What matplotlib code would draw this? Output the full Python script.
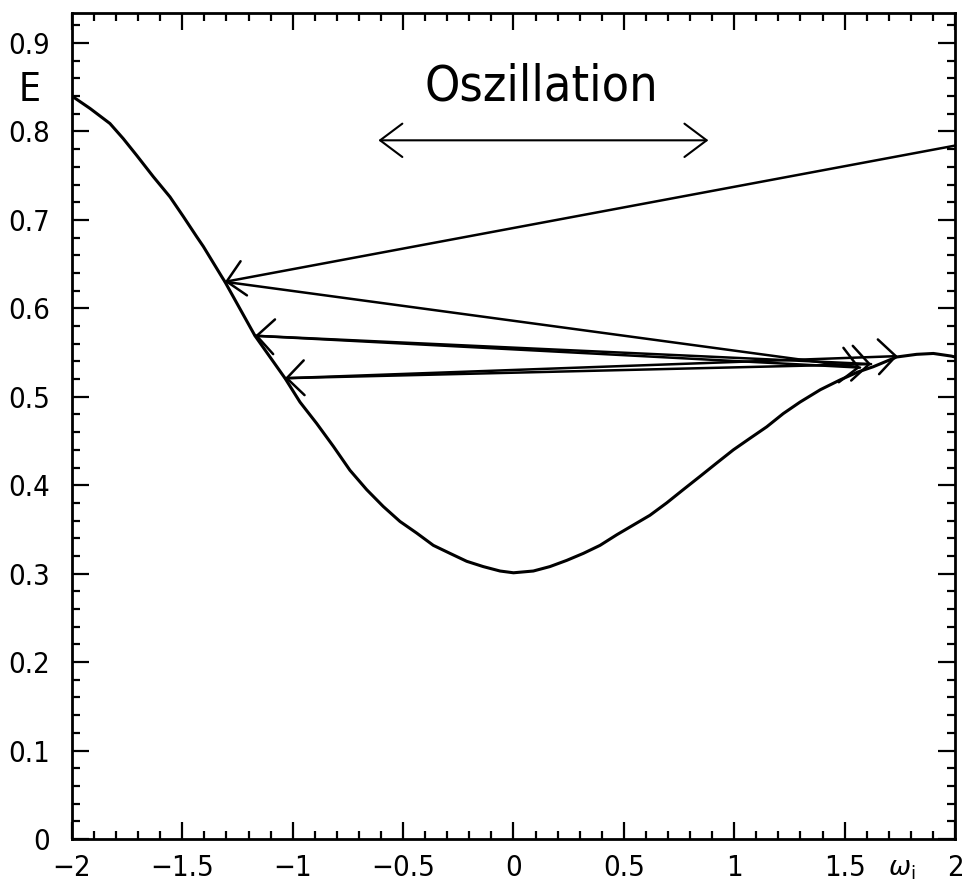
import numpy as np
import matplotlib
matplotlib.use("Agg")
import matplotlib.pyplot as plt
from matplotlib.ticker import MultipleLocator

# ---
# data
# ---

# energy curve E(w_i)
curve_w = [-2.0, -1.918, -1.828, -1.768, -1.707, -1.632, -1.556, -1.496, -1.435,
           -1.405, -1.322, -1.307, -1.171, -1.035, -0.967, -0.892, -0.816,
           -0.741, -0.665, -0.590, -0.514, -0.439, -0.363, -0.288, -0.212,
           -0.137, -0.061, 0.0, 0.090, 0.165, 0.241, 0.317, 0.392, 0.468,
           0.543, 0.618, 0.694, 0.769, 0.845, 0.920, 0.996, 1.071, 1.147,
           1.222, 1.298, 1.390, 1.479, 1.560, 1.630, 1.736, 1.826, 1.902,
           1.984, 2.0]
curve_E = [0.840, 0.826, 0.809, 0.792, 0.773, 0.749, 0.726, 0.704, 0.681,
           0.670, 0.636, 0.630, 0.569, 0.521, 0.494, 0.470, 0.444,
           0.417, 0.395, 0.376, 0.359, 0.346, 0.332, 0.323, 0.314,
           0.308, 0.303, 0.301, 0.303, 0.308, 0.315, 0.323, 0.332, 0.344,
           0.355, 0.366, 0.380, 0.395, 0.410, 0.425, 0.440, 0.453, 0.466,
           0.481, 0.494, 0.508, 0.519, 0.528, 0.534, 0.545, 0.548, 0.549,
           0.546, 0.545]

# oscillating steps (each pair of consecutive points is one arrow)
jump_w = [2.0, -1.307, 1.57, -1.171, 1.62, -1.035, 1.74]
jump_E = [0.784, 0.630, 0.533, 0.569, 0.537, 0.521, 0.546]

# "Oszillation" double arrow
osc_w = [-0.612, 0.883]
osc_E = 0.790

xticks = [-2, -1.5, -1, -0.5, 0, 0.5, 1, 1.5, 2]
xticklabels = ["\u22122", "\u22121.5", "\u22121", "\u22120.5", "0", "0.5", "1", "1.5", "2"]
yticks = [0, 0.1, 0.2, 0.3, 0.4, 0.5, 0.6, 0.7, 0.8, 0.9]
yticklabels = ["0", "0.1", "0.2", "0.3", "0.4", "0.5", "0.6", "0.7", "0.8", "0.9"]

# ---
# plot
# ---

font = dict(family="DejaVu Sans", stretch="condensed")

fig = plt.figure(figsize=(9.66, 8.88), dpi=100)
ax = fig.add_axes([0.0745, 0.0552, 0.9141, 0.9302])

ax.plot(curve_w, curve_E, color="black", lw=2.2,
        solid_joinstyle="round", solid_capstyle="round")

arrow_kw = dict(arrowstyle="->,head_length=1.25,head_width=1.25",
                mutation_scale=10, lw=1.8, color="black",
                shrinkA=0, shrinkB=0)
for i in range(len(jump_w) - 1):
    ax.annotate("", xy=(jump_w[i + 1], jump_E[i + 1]),
                xytext=(jump_w[i], jump_E[i]),
                arrowprops=arrow_kw, annotation_clip=False)

ax.annotate("", xy=(osc_w[0], osc_E), xytext=(osc_w[1], osc_E),
            arrowprops=dict(arrowstyle="<->,head_length=1.6,head_width=1.2",
                            mutation_scale=10, lw=1.5, color="black",
                            shrinkA=0, shrinkB=0))
ax.text(0.128, 0.851, "Oszillation", ha="center", va="center",
        fontsize=36, **font)

ax.set_xlim(-2, 2)
ax.set_ylim(0, 0.934)

ax.set_xticks(xticks)
ax.set_xticklabels(xticklabels, fontsize=21, **font)
ax.set_yticks(yticks)
ax.set_yticklabels(yticklabels, fontsize=21, **font)
ax.xaxis.set_minor_locator(MultipleLocator(0.1))
ax.yaxis.set_minor_locator(MultipleLocator(0.02))

ax.tick_params(which="both", direction="in", top=True, right=True, width=1.6)
ax.tick_params(which="major", length=12)
ax.tick_params(which="minor", length=6)
ax.tick_params(axis="x", which="major", pad=11)
ax.tick_params(axis="y", which="major", pad=16)
for s in ax.spines.values():
    s.set_linewidth(2.0)

# axis labels placed like the original
ax.text(-0.0476, 0.907, "E", transform=ax.transAxes, ha="center", va="center",
        fontsize=28, **font)
ax.text(0.94, -0.036, r"$\omega_{\rm i}$", transform=ax.transAxes,
        ha="center", va="center", fontsize=19)

fig.savefig("out.png", dpi=100)
